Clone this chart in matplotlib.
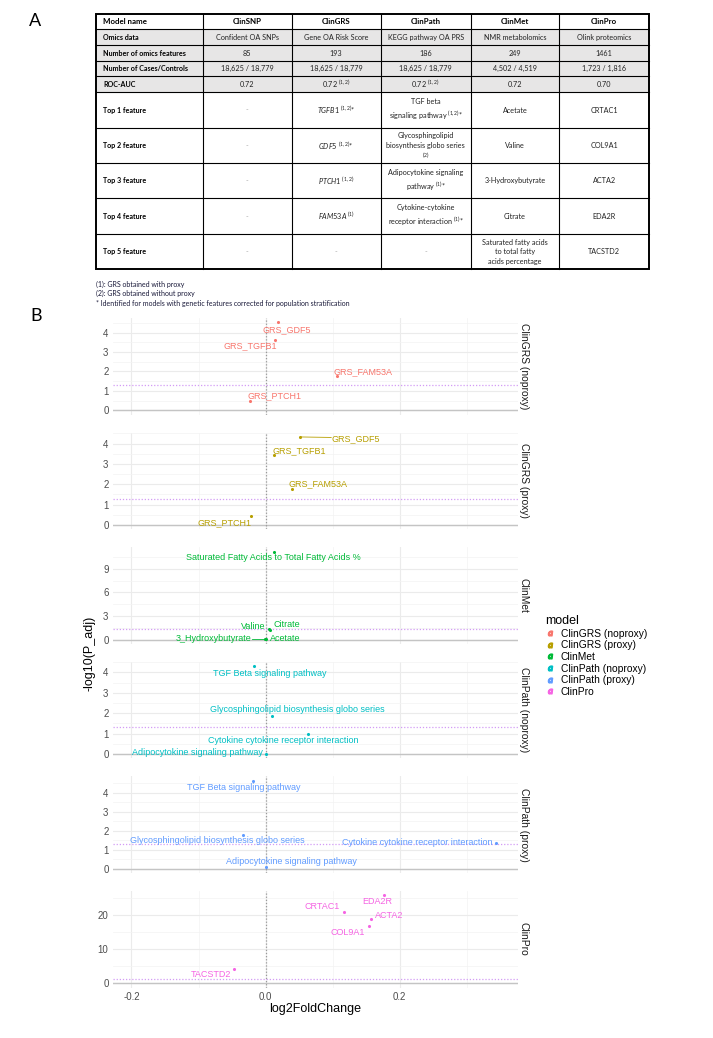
import numpy as np
import matplotlib.pyplot as plt
from matplotlib.lines import Line2D
from matplotlib.patches import Rectangle
from matplotlib.ticker import MultipleLocator

plt.rcParams['font.family'] = ['Liberation Sans', 'DejaVu Sans']
plt.rcParams['axes.unicode_minus'] = False
plt.rcParams['mathtext.fontset'] = 'custom'
plt.rcParams['mathtext.rm'] = 'Lato'
plt.rcParams['mathtext.it'] = 'Lato:italic'
plt.rcParams['mathtext.bf'] = 'Lato:bold'

# ---------------- panel A: table ----------------
col_headers = ["Model name", "ClinSNP", "ClinGRS", "ClinPath", "ClinMet", "ClinPro"]
row_labels = ["Omics data", "Number of omics features", "Number of Cases/Controls", "ROC-AUC",
              "Top 1 feature", "Top 2 feature", "Top 3 feature", "Top 4 feature", "Top 5 feature"]
clinsnp_col = ["Confident OA SNPs", "85", "18,625 / 18,779", "0.72", "-", "-", "-", "-", "-"]
clingrs_col = ["Gene OA Risk Score", "193", "18,625 / 18,779", "0.72 $^{(1,2)}$",
               "$\\mathit{TGFB1}$ $^{(1,2)}$*", "$\\mathit{GDF5}$ $^{(1,2)}$*",
               "$\\mathit{PTCH1}$ $^{(1,2)}$", "$\\mathit{FAM53A}$ $^{(1)}$", "-"]
clinpath_col = ["KEGG pathway OA PRS", "186", "18,625 / 18,779", "0.72 $^{(1,2)}$",
                "TGF beta\nsignaling pathway $^{(1,2)}$*",
                "Glycosphingolipid\nbiosynthesis globo series\n$^{(2)}$",
                "Adipocytokine signaling\npathway $^{(1)}$*",
                "Cytokine-cytokine\nreceptor interaction $^{(1)}$*", "-"]
clinmet_col = ["NMR metabolomics", "249", "4,502 / 4,519", "0.72",
               "Acetate", "Valine", "3-Hydroxybutyrate", "Citrate",
               "Saturated fatty acids\nto total fatty\nacids percentage"]
clinpro_col = ["Olink proteomics", "1461", "1,723 / 1,816", "0.70",
               "CRTAC1", "COL9A1", "ACTA2", "EDA2R", "TACSTD2"]
footnotes = ["(1): GRS obtained with proxy",
             "(2): GRS obtained without proxy",
             "* Identified for models with genetic features corrected for population stratification"]

# ---------------- panel B: volcano facets ----------------
models = ["ClinGRS (noproxy)", "ClinGRS (proxy)", "ClinMet",
          "ClinPath (noproxy)", "ClinPath (proxy)", "ClinPro"]
colors = ["#F8766D", "#B79F00", "#00BA38", "#00BFC4", "#619CFF", "#F564E3"]

grs_feat = ["GRS_GDF5", "GRS_TGFB1", "GRS_FAM53A", "GRS_PTCH1"]
grs_np_lfc = [0.018, 0.014, 0.106, -0.023]
grs_np_p = [4.52, 3.64, 1.75, 0.48]
grs_px_lfc = [0.052, 0.013, 0.039, -0.022]
grs_px_p = [4.33, 3.43, 1.76, 0.44]

met_feat = ["Saturated Fatty Acids to Total Fatty Acids %", "Valine", "Citrate",
            "3_Hydroxybutyrate", "Acetate"]
met_lfc = [0.012, 0.005, 0.007, -0.001, 0.001]
met_p = [11.2, 1.31, 1.26, 0.05, 0.04]

path_feat = ["TGF Beta signaling pathway", "Glycosphingolipid biosynthesis globo series",
             "Cytokine cytokine receptor interaction", "Adipocytokine signaling pathway"]
path_np_lfc = [-0.017, 0.010, 0.063, 0.0]
path_np_p = [4.31, 1.87, 0.97, 0.01]
path_px_lfc = [-0.019, -0.034, 0.344, 0.001]
path_px_p = [4.63, 1.78, 1.37, 0.07]

pro_feat = ["EDA2R", "CRTAC1", "ACTA2", "COL9A1", "TACSTD2"]
pro_lfc = [0.177, 0.117, 0.157, 0.154, -0.047]
pro_p = [25.85, 20.97, 18.9, 16.7, 4.27]

panels = [(grs_feat, grs_np_lfc, grs_np_p), (grs_feat, grs_px_lfc, grs_px_p),
          (met_feat, met_lfc, met_p), (path_feat, path_np_lfc, path_np_p),
          (path_feat, path_px_lfc, path_px_p), (pro_feat, pro_lfc, pro_p)]

# repel-style label offsets (pixels: right, down)
label_offsets = [
    [(9, 7), (-25, 6), (26, -5), (24, -5)],
    [(55, 2), (25, -5), (26, -5), (-26, 7)],
    [(0, 6), (-16, -3), (17, -5), (-51, -1), (19, -1)],
    [(16, 7), (25, -6), (-25, 6), (-68, -1)],
    [(-9, 7), (-25, 6), (-79, 0), (25, -6)],
    [(-7, 6), (-22, -5), (18, -3), (-21, 6), (-23, 6)],
]
y_steps = [1, 1, 3, 1, 1, 10]

W, H = 713, 1038
fig = plt.figure(figsize=(W / 100, H / 100), dpi=100)


def px_axes(left, top, width, height):
    return fig.add_axes([left / W, 1 - (top + height) / H, width / W, height / H])


# --- table ---
tab = fig.add_axes([0, 0, 1, 1])
tab.set_xlim(0, W)
tab.set_ylim(H, 0)
tab.axis('off')

col_x = [96, 202.7, 291.7, 380.7, 470.7, 559.3, 649.3]
row_y = [14.3, 29.3, 45, 61, 76.3, 92, 128.3, 163.3, 198.3, 234.3, 269.3]

for r in range(1, 5):
    tab.add_patch(Rectangle((col_x[0], row_y[r]), col_x[-1] - col_x[0], row_y[r + 1] - row_y[r],
                            facecolor='#E7E6E6', edgecolor='none'))
for y in row_y[1:-1]:
    tab.plot([col_x[0], col_x[-1]], [y, y], color='black', lw=0.8)
for x in col_x[1:-1]:
    tab.plot([x, x], [row_y[0], row_y[-1]], color='black', lw=0.8)
tab.add_patch(Rectangle((col_x[0], row_y[0]), col_x[-1] - col_x[0], row_y[-1] - row_y[0],
                        facecolor='none', edgecolor='black', lw=1.4))

tfont = ['Lato', 'DejaVu Sans']
for c, head in enumerate(col_headers):
    yc = (row_y[0] + row_y[1]) / 2
    if c == 0:
        tab.text(col_x[0] + 7, yc, head, ha='left', va='center', fontsize=5.7,
                 fontweight='bold', family=tfont)
    else:
        tab.text((col_x[c] + col_x[c + 1]) / 2, yc, head, ha='center', va='center',
                 fontsize=5.7, fontweight='bold', family=tfont)

columns = [clinsnp_col, clingrs_col, clinpath_col, clinmet_col, clinpro_col]
for r, lab in enumerate(row_labels):
    yc = (row_y[r + 1] + row_y[r + 2]) / 2
    tab.text(col_x[0] + 7, yc, lab, ha='left', va='center', fontsize=5.1,
             fontweight='bold', family=tfont)
    for c, col in enumerate(columns):
        txt = col[r]
        clr = '#aaaaaa' if txt == '-' else '#222222'
        tab.text((col_x[c + 1] + col_x[c + 2]) / 2, yc, txt, ha='center', va='center',
                 fontsize=5.2, family=tfont, color=clr, linespacing=1.45)

for i, note in enumerate(footnotes):
    tab.text(96, 284.5 + i * 9.3, note, ha='left', va='center', fontsize=5.0,
             family=tfont, color='#1a1a3a')

tab.text(35, 21, "A", ha='center', va='center', fontsize=13, family=tfont)
tab.text(36.5, 316, "B", ha='center', va='center', fontsize=13, family=tfont)

# --- facets ---
xlim = (-0.228, 0.376)
annots = []
for i, (feat, lfc, nlp) in enumerate(panels):
    ax = px_axes(112.7, 318 + i * 114.55, 405, 96.8)
    col = colors[i]
    ax.set_xlim(*xlim)
    lo, hi = min(0, min(nlp)), max(nlp)
    pad = 0.05 * (hi - lo)
    ax.set_ylim(lo - pad, hi + pad)
    ax.xaxis.set_major_locator(MultipleLocator(0.2))
    ax.xaxis.set_minor_locator(MultipleLocator(0.1))
    ax.yaxis.set_major_locator(MultipleLocator(y_steps[i]))
    ax.yaxis.set_minor_locator(MultipleLocator(y_steps[i] / 2))
    ax.grid(which='major', color='#EBEBEB', lw=0.8)
    ax.grid(which='minor', color='#F3F3F3', lw=0.5)
    ax.set_axisbelow(True)
    for s in ax.spines.values():
        s.set_visible(False)
    ax.tick_params(which='both', length=0, labelsize=7, labelcolor='#4D4D4D', pad=3)
    if i < len(panels) - 1:
        ax.tick_params(axis='x', labelbottom=False)
    ax.axhline(0, color='#C4C4C4', lw=1.0, zorder=1)
    ax.axvline(0, color='#9A9A9A', lw=0.9, ls=(0, (1, 1.5)), zorder=2)
    ax.axhline(-np.log10(0.05), color='#D39BF5', lw=0.9, ls=(0, (1, 1.5)), zorder=2)
    ax.scatter(lfc, nlp, s=5, color=col, zorder=4, linewidths=0)
    for j, name in enumerate(feat):
        dx, dy = label_offsets[i][j]
        a = ax.annotate(name, (lfc[j], nlp[j]), xytext=(dx, -dy), textcoords='offset pixels',
                        ha='center', va='center', fontsize=6.5, color=col, zorder=5)
        annots.append((ax, a, lfc[j], nlp[j], col))
    ax.text(1.002, 0.5, models[i], transform=ax.transAxes, rotation=270, ha='left',
            va='center', fontsize=7.4, color='#1A1A1A')

fig.text(315 / W, 1 - 1009 / H, "log2FoldChange", ha='center', va='center', fontsize=9)
fig.text(90 / W, 1 - 653 / H, "-log10(P_adj)", ha='center', va='center', rotation=90,
         fontsize=9)

# segments for labels pushed away from their points
fig.canvas.draw()
rend = fig.canvas.get_renderer()
for ax, a, x, y, col in annots:
    bb = a.get_window_extent(rend)
    px, py = ax.transData.transform((x, y))
    nx = min(max(px, bb.x0), bb.x1)
    ny = min(max(py, bb.y0 + 3), bb.y1 - 3)
    if np.hypot(nx - px, ny - py) > 8:
        inv = ax.transData.inverted()
        p0 = inv.transform((nx, ny))
        ax.plot([p0[0], x], [p0[1], y], color=col, lw=0.6, zorder=3)

handles = [Line2D([], [], marker='$a$', ls='', color=c, markersize=3.5) for c in colors]
leg = fig.legend(handles, models, title='model', loc='upper left',
                 bbox_to_anchor=(540 / W, 1 - 610 / H), frameon=False, fontsize=7.4,
                 title_fontsize=9, borderpad=0, handlelength=0.9, handletextpad=0.6,
                 labelspacing=0.16, alignment='left')

fig.savefig("out.png", dpi=100)
